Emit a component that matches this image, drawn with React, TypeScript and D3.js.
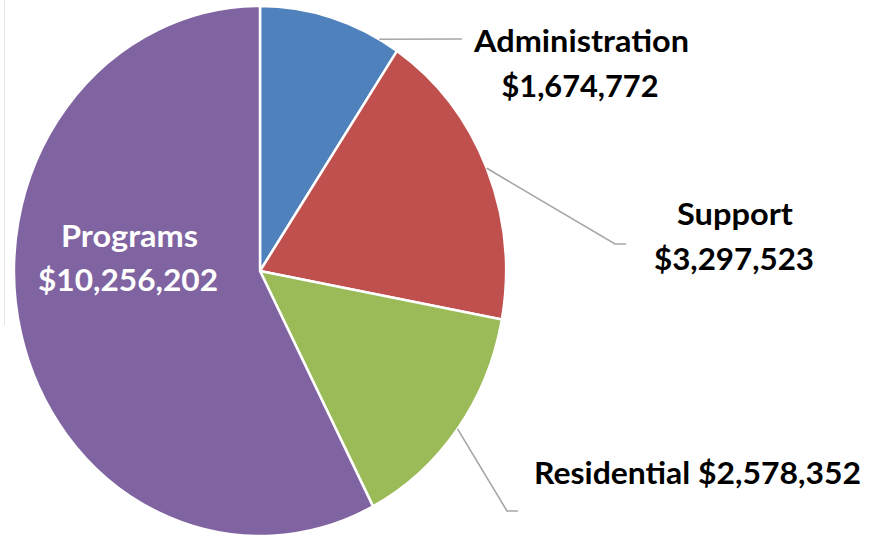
import React from "react";
import * as d3 from "d3";

const categories = ["Administration", "Support", "Residential", "Programs"];
const values = [1674772, 3297523, 2578352, 10256202];
const colors = ["#4f81bd", "#c0504d", "#9bbb59", "#8064a2"];

const W = 877;
const H = 536;
const cx = 260;
const cy = 271;
const rx = 246;
const ry = 265;

const fmt = (v: number) => "$" + d3.format(",")(v);

export default function App() {
  const pie = d3
    .pie<number>()
    .sort(null)
    .value((d) => d)
    .startAngle(0)
    .endAngle(2 * Math.PI);
  const arcs = pie(values);
  const arc = d3.arc<d3.PieArcDatum<number>>().innerRadius(0).outerRadius(rx);

  const edge = (a: number) => [cx + rx * Math.sin(a), cy - ry * Math.cos(a)];
  const mid = (d: d3.PieArcDatum<number>) => (d.startAngle + d.endAngle) / 2;
  const deg = Math.PI / 180;

  const adminStart = edge(29 * deg);
  const supStart = edge(mid(arcs[1]));
  const resStart = edge(mid(arcs[2]));

  const line = d3.line();
  const font = "Lato, 'Open Sans', sans-serif";
  const fs = 31;

  const T = (props: {
    x: number;
    y: number;
    len: number;
    fill?: string;
    children: string;
  }) => (
    <text
      x={props.x}
      y={props.y}
      textAnchor="middle"
      fontFamily={font}
      fontWeight={700}
      fontSize={fs}
      fill={props.fill || "#000"}
      textLength={props.len}
      lengthAdjust="spacingAndGlyphs"
    >
      {props.children}
    </text>
  );

  return (
    <svg
      width={W}
      height={H}
      style={{ position: "absolute", left: 0, top: 0, background: "#fff" }}
    >
      <rect width={W} height={H} fill="#fff" />
      <line x1={4.5} x2={4.5} y1={0} y2={325} stroke="#e3e3e3" strokeWidth={1} />
      <g transform={`translate(${cx},${cy}) scale(1,${ry / rx})`}>
        {arcs.map((d, i) => (
          <path
            key={categories[i]}
            d={arc(d) || ""}
            fill={colors[i]}
            stroke="#fff"
            strokeWidth={2.5}
            vectorEffect="non-scaling-stroke"
            strokeLinejoin="round"
          />
        ))}
      </g>
      <g fill="none" stroke="#a6a6a6" strokeWidth={1.6}>
        <path d={line([[adminStart[0], adminStart[1]], [462, 39]] as [number, number][]) || ""} />
        <path
          d={
            line([
              [supStart[0], supStart[1]],
              [615, 244],
              [626, 244],
            ] as [number, number][]) || ""
          }
        />
        <path
          d={
            line([
              [resStart[0], resStart[1]],
              [507, 511],
              [518, 511],
            ] as [number, number][]) || ""
          }
        />
      </g>
      <T x={581.5} y={52} len={215}>{categories[0]}</T>
      <T x={580} y={97} len={157}>{fmt(values[0])}</T>
      <T x={735} y={225} len={116}>{categories[1]}</T>
      <T x={734} y={270} len={160}>{fmt(values[1])}</T>
      <T x={697.5} y={484} len={327}>{`${categories[2]} ${fmt(values[2])}`}</T>
      <T x={129.5} y={247} len={137} fill="#fff">{categories[3]}</T>
      <T x={128} y={291} len={180} fill="#fff">{fmt(values[3])}</T>
    </svg>
  );
}
